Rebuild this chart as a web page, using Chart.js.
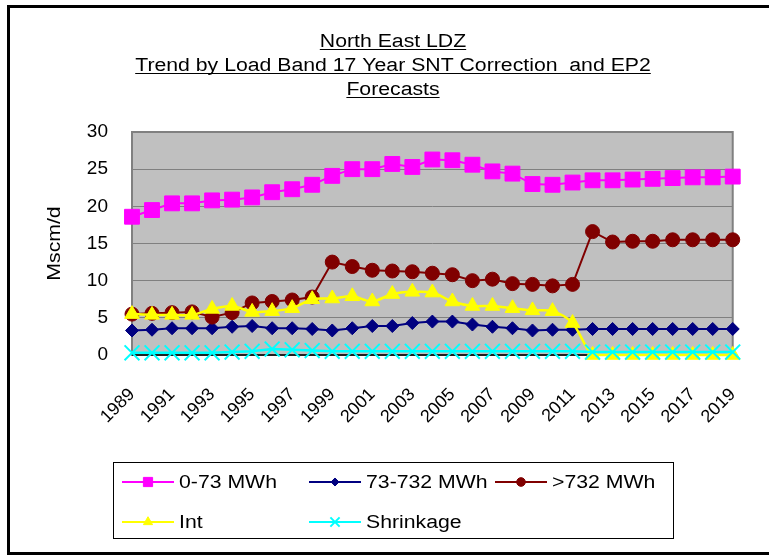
<!DOCTYPE html>
<html>
<head>
<meta charset="utf-8">
<title>North East LDZ</title>
<script src="https://cdn.jsdelivr.net/npm/chart.js@4.4.1/dist/chart.umd.min.js"></script>
<style>
    html, body { margin: 0; padding: 0; overflow: hidden; background: #fff; }
    #frame {
        position: absolute; left: 7px; top: 5px;
        width: 800px; height: 550px;
        box-sizing: border-box; border: 3px solid #000;
    }
    #chart { position: absolute; left: 0; top: 0; }
</style>
</head>
<body>
<div id="frame"></div>
<canvas id="chart" width="769" height="555"></canvas>
<script>
// Данные
const years = ['1989', '1990', '1991', '1992', '1993', '1994', '1995', '1996', '1997', '1998',
               '1999', '2000', '2001', '2002', '2003', '2004', '2005', '2006', '2007', '2008',
               '2009', '2010', '2011', '2012', '2013', '2014', '2015', '2016', '2017', '2018', '2019'];

const band0to73 = [18.6, 19.5, 20.4, 20.4, 20.8, 20.9, 21.2, 21.9, 22.3, 22.9,
                   24.1, 25.0, 25.0, 25.7, 25.3, 26.3, 26.2, 25.6, 24.7, 24.4,
                   23.0, 22.9, 23.2, 23.5, 23.5, 23.6, 23.7, 23.8, 23.9, 23.9, 24.0];

const band73to732 = [3.3, 3.4, 3.6, 3.6, 3.6, 3.8, 3.9, 3.6, 3.6, 3.5,
                     3.3, 3.6, 3.9, 3.9, 4.3, 4.5, 4.5, 4.1, 3.8, 3.6,
                     3.3, 3.4, 3.4, 3.5, 3.5, 3.5, 3.5, 3.5, 3.5, 3.5, 3.5];

const bandOver732 = [5.5, 5.6, 5.7, 5.8, 5.1, 5.7, 7.0, 7.2, 7.4, 7.8,
                     12.5, 11.9, 11.4, 11.3, 11.2, 11.0, 10.8, 10.0, 10.2, 9.6,
                     9.5, 9.3, 9.5, 16.6, 15.2, 15.3, 15.3, 15.5, 15.5, 15.5, 15.5];

const interruptible = [5.5, 5.4, 5.4, 5.4, 6.2, 6.6, 5.8, 5.9, 6.3, 7.5,
                       7.6, 7.9, 7.2, 8.2, 8.5, 8.4, 7.2, 6.6, 6.6, 6.3,
                       6.0, 5.9, 4.3, 0, 0, 0, 0, 0, 0, 0, 0];

const shrinkage = [0.3, 0.3, 0.3, 0.3, 0.3, 0.4, 0.5, 0.8, 0.7, 0.6,
                   0.5, 0.5, 0.5, 0.5, 0.5, 0.5, 0.5, 0.5, 0.5, 0.5,
                   0.5, 0.5, 0.5, 0.4, 0.4, 0.4, 0.4, 0.4, 0.4, 0.4, 0.4];

const titleLines = ['North East LDZ', 'Trend by Load Band 17 Year SNT Correction  and EP2', 'Forecasts'];
const yAxisTitle = 'Mscm/d';

const FONT = '"Liberation Sans", Arial, sans-serif';
const STRETCH = 1.18; // текст в оригинале заметно шире обычного Arial

function series(label, data, color, style, radius, order, extra) {
    return Object.assign({
        label: label,
        data: data,
        borderColor: color,
        backgroundColor: color,
        pointBackgroundColor: color,
        pointBorderColor: color,
        pointStyle: style,
        pointRadius: radius,
        pointHoverRadius: radius,
        pointBorderWidth: 1,
        borderWidth: 2,
        tension: 0,
        clip: false,
        order: order
    }, extra || {});
}

// Растянутый по горизонтали текст, возвращает ширину
function stretchedText(ctx, text, x, y, align) {
    ctx.save();
    ctx.translate(x, y);
    ctx.scale(STRETCH, 1);
    ctx.textAlign = align;
    ctx.fillText(text, 0, 0);
    const w = ctx.measureText(text).width * STRETCH;
    ctx.restore();
    return w;
}

// Серый фон и рамка области построения
const plotFrame = {
    id: 'plotFrame',
    beforeDraw(chart) {
        const { ctx, chartArea: a } = chart;
        ctx.save();
        ctx.fillStyle = '#c0c0c0';
        ctx.fillRect(a.left, a.top, a.right - a.left, a.bottom - a.top);
        ctx.restore();
    },
    beforeDatasetsDraw(chart) {
        const { ctx, chartArea: a } = chart;
        ctx.save();
        ctx.strokeStyle = '#808080';
        ctx.lineWidth = 2;
        ctx.strokeRect(a.left, a.top, a.right - a.left, a.bottom - a.top);
        ctx.strokeStyle = '#000';
        ctx.lineWidth = 1.5;
        ctx.beginPath();
        ctx.moveTo(a.left, a.bottom);
        ctx.lineTo(a.right, a.bottom);
        ctx.stroke();
        ctx.restore();
    }
};

// Подчеркнутый заголовок в три строки и подпись оси Y
const titles = {
    id: 'titles',
    afterDraw(chart) {
        const { ctx, chartArea: a } = chart;
        ctx.save();
        ctx.font = '18px ' + FONT;
        ctx.fillStyle = '#000';
        ctx.strokeStyle = '#000';
        ctx.lineWidth = 1;
        ctx.textBaseline = 'alphabetic';
        titleLines.forEach((line, i) => {
            const x = 393;
            const y = 47 + i * 24;
            const w = stretchedText(ctx, line, x, y, 'center');
            ctx.beginPath();
            ctx.moveTo(x - w / 2, y + 2.5);
            ctx.lineTo(x + w / 2, y + 2.5);
            ctx.stroke();
        });

        ctx.translate(55, (a.top + a.bottom) / 2);
        ctx.rotate(-Math.PI / 2);
        ctx.textBaseline = 'middle';
        stretchedText(ctx, yAxisTitle, 0, 0, 'center');
        ctx.restore();
    }
};

// Легенда в рамке: три колонки, две строки
const boxedLegend = {
    id: 'boxedLegend',
    afterDraw(chart) {
        const ctx = chart.ctx;
        const cols = [122, 309, 495];
        const rows = [482, 522];
        ctx.save();
        ctx.strokeStyle = '#000';
        ctx.lineWidth = 1;
        ctx.strokeRect(113.5, 462.5, 560, 76);
        ctx.font = '18px ' + FONT;
        ctx.textBaseline = 'middle';
        chart.data.datasets.forEach((ds, i) => {
            const x = cols[i % 3];
            const y = rows[Math.floor(i / 3)];
            ctx.strokeStyle = ds.borderColor;
            ctx.fillStyle = ds.borderColor;
            ctx.lineWidth = 2;
            ctx.beginPath();
            ctx.moveTo(x, y);
            ctx.lineTo(x + 52, y);
            ctx.stroke();
            ctx.lineWidth = ds.pointBorderWidth;
            Chart.helpers.drawPoint(ctx, {
                pointStyle: ds.pointStyle,
                radius: ds.pointRadius * 0.62,
                rotation: 0,
                borderWidth: ds.pointBorderWidth
            }, x + 26, y);
            ctx.fillStyle = '#000';
            stretchedText(ctx, ds.label, x + 57, y + 1, 'left');
        });
        ctx.restore();
    }
};

const chart = new Chart(document.getElementById('chart'), {
    type: 'line',
    data: {
        labels: years,
        datasets: [
            series('0-73 MWh', band0to73, '#ff00ff', 'rect', 10.5, 4),
            series('73-732 MWh', band73to732, '#000080', 'rectRot', 6.5, 3),
            series('>732 MWh', bandOver732, '#800000', 'circle', 7, 2),
            series('Int', interruptible, '#ffff00', 'triangle', 8.5, 1, { tension: 0.3, borderWidth: 2.5 }),
            series('Shrinkage', shrinkage, '#00ffff', 'crossRot', 10.5, 0, { pointBorderWidth: 2, borderWidth: 2.5 })
        ]
    },
    options: {
        responsive: false,
        animation: false,
        devicePixelRatio: 1,
        layout: { padding: { left: 0, top: 132, right: 36, bottom: 0 } },
        plugins: {
            legend: { display: false },
            title: { display: false },
            tooltip: { enabled: false }
        },
        scales: {
            x: {
                grid: { display: false },
                border: { display: false },
                afterFit: (scale) => { scale.height = 200; },
                ticks: {
                    autoSkip: false,
                    maxRotation: 45,
                    minRotation: 45,
                    padding: 21,
                    color: '#000',
                    font: { family: FONT, size: 18 },
                    callback: function (value, index) {
                        return index % 2 === 0 ? this.getLabelForValue(value) : '';
                    }
                }
            },
            y: {
                min: 0,
                max: 30,
                grid: { color: '#808080', lineWidth: 1, drawTicks: false },
                border: { display: false },
                afterFit: (scale) => { scale.width = 132; },
                ticks: {
                    stepSize: 5,
                    padding: 24,
                    color: '#000',
                    font: { family: FONT, size: 19 }
                }
            }
        }
    },
    plugins: [plotFrame, titles, boxedLegend]
});
</script>
</body>
</html>
